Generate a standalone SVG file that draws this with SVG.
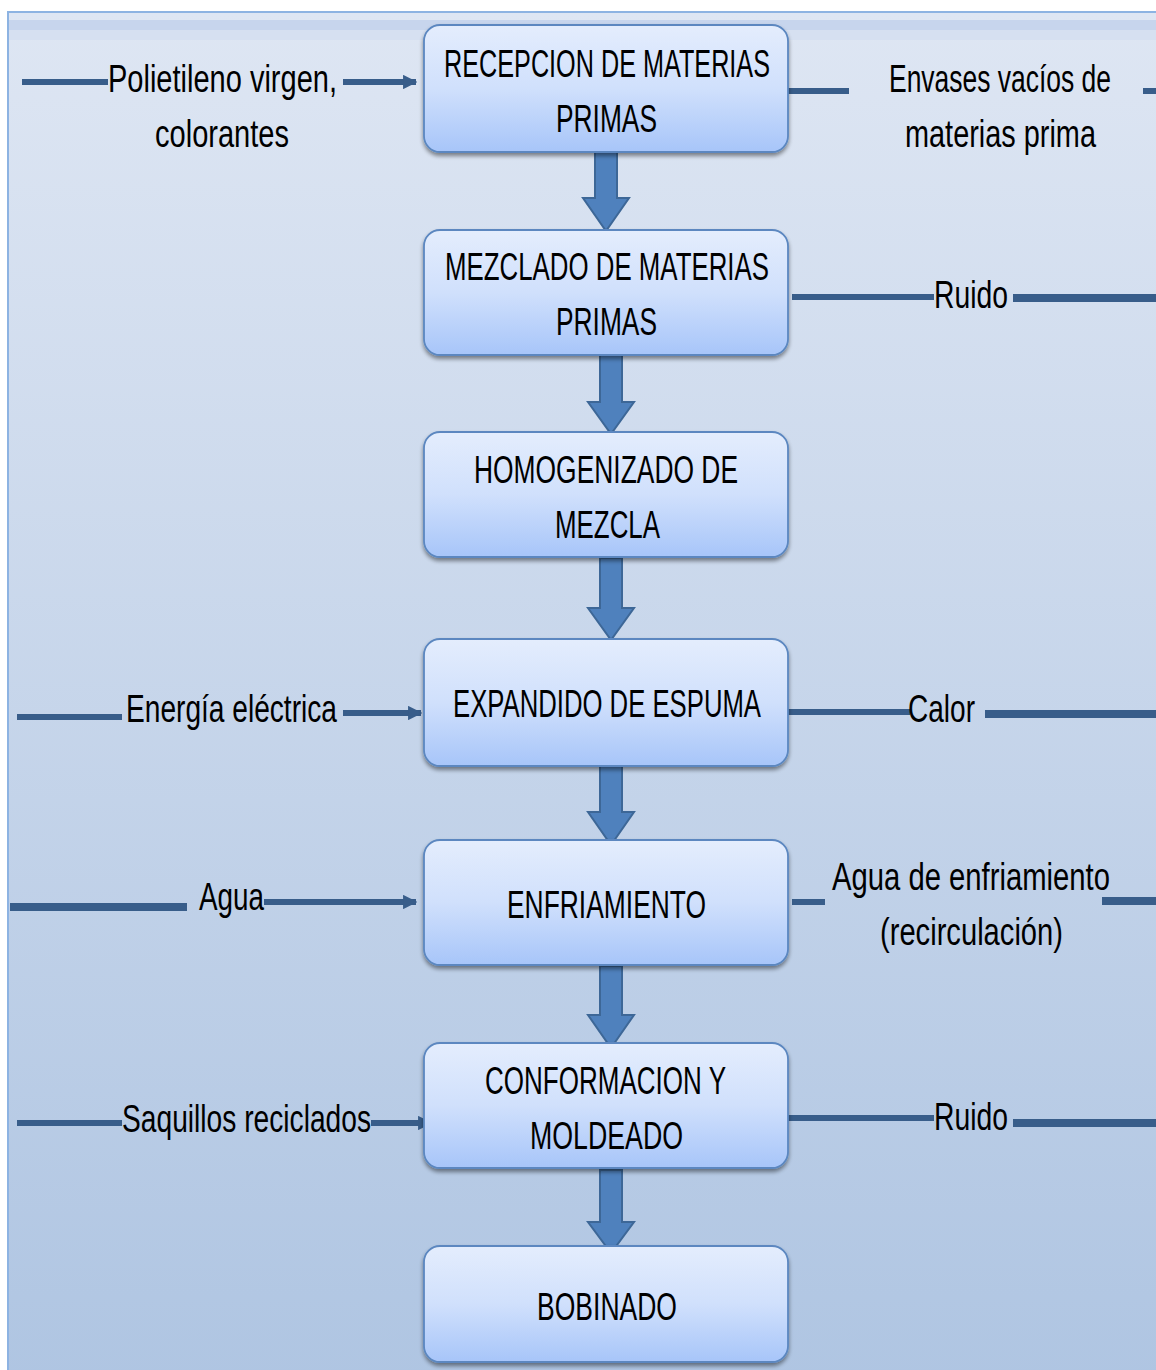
<svg xmlns="http://www.w3.org/2000/svg" width="1156" height="1370" viewBox="0 0 1156 1370">
<defs>
<linearGradient id="bg" x1="0" y1="0" x2="0" y2="1">
<stop offset="0" stop-color="#dee6f3"/>
<stop offset="1" stop-color="#afc5e2"/>
</linearGradient>
<linearGradient id="box" x1="0" y1="0" x2="0" y2="1">
<stop offset="0" stop-color="#e4edfd"/>
<stop offset="0.5" stop-color="#d0e0fc"/>
<stop offset="1" stop-color="#a7c5f9"/>
</linearGradient>
<filter id="sh" x="-10%" y="-10%" width="120%" height="130%">
<feGaussianBlur in="SourceAlpha" stdDeviation="2"/>
<feOffset dx="0" dy="3" result="o"/>
<feComponentTransfer><feFuncA type="linear" slope="0.45"/></feComponentTransfer>
<feMerge><feMergeNode/><feMergeNode in="SourceGraphic"/></feMerge>
</filter>
<marker id="ah" viewBox="0 0 10 10" refX="9" refY="5" markerWidth="2.4" markerHeight="2.4" orient="auto" markerUnits="strokeWidth">
<path d="M0,0 L10,5 L0,10 Z" fill="#385d8a"/>
</marker>
</defs>
<style>
.bx{fill:url(#box);stroke:#5b87c0;stroke-width:1.8}
.t{font-family:"Liberation Sans",Arial,sans-serif;font-size:39px;fill:#000}
.l{font-family:"Liberation Sans",Arial,sans-serif;font-size:38px;fill:#000}
.ln{stroke:#385d8a;stroke-width:6;fill:none}
.lt{stroke:#385d8a;stroke-width:8;fill:none}
.ar{stroke:#385d8a;stroke-width:6;fill:none;marker-end:url(#ah)}
.ba{fill:#4f81bd;stroke:#3d6797;stroke-width:2}
</style>
<rect x="0" y="0" width="1156" height="1370" fill="#ffffff"/>
<rect x="8" y="12" width="1160" height="1370" fill="url(#bg)" stroke="#8db3e2" stroke-width="2"/>
<rect x="9" y="20" width="1147" height="10" fill="#c7d5ed"/>
<rect x="9" y="30" width="1147" height="10" fill="#d6e0f1"/>

<g id="connectors">
<path class="ba" d="M595,150 H617 V198 H629 L606,231 L583,198 H595 Z"/>
<path class="ba" d="M600,355 H622 V402 H634 L611,434 L588,402 H600 Z"/>
<path class="ba" d="M600,558 H622 V608 H634 L611,640 L588,608 H600 Z"/>
<path class="ba" d="M600,765 H622 V812 H634 L611,845 L588,812 H600 Z"/>
<path class="ba" d="M600,966 H622 V1015 H634 L611,1048 L588,1015 H600 Z"/>
<path class="ba" d="M600,1170 H622 V1222 H634 L611,1253 L588,1222 H600 Z"/>

<line class="ln" x1="22" y1="82" x2="108" y2="82"/>
<line class="ar" x1="343" y1="82" x2="416" y2="82"/>
<line class="ln" x1="788" y1="91" x2="849" y2="91"/>
<line class="ln" x1="1143" y1="91" x2="1156" y2="91"/>

<line class="ln" x1="792" y1="297" x2="934" y2="297"/>
<line class="lt" x1="1013" y1="298" x2="1156" y2="298"/>

<line class="ln" x1="17" y1="717" x2="122" y2="717"/>
<line class="ar" x1="343" y1="713" x2="421" y2="713"/>
<line class="ln" x1="788" y1="712" x2="910" y2="712"/>
<line class="lt" x1="985" y1="714" x2="1156" y2="714"/>

<line class="lt" x1="10" y1="907" x2="187" y2="907"/>
<line class="ar" x1="264" y1="902" x2="416" y2="902"/>
<line class="ln" x1="792" y1="902" x2="825" y2="902"/>
<line class="lt" x1="1102" y1="901" x2="1156" y2="901"/>

<line class="ln" x1="17" y1="1123" x2="122" y2="1123"/>
<line class="ar" x1="371" y1="1123" x2="431" y2="1123"/>
<line class="ln" x1="788" y1="1118" x2="934" y2="1118"/>
<line class="lt" x1="1013" y1="1123" x2="1156" y2="1123"/>
</g>

<g id="n1"><rect class="bx" filter="url(#sh)" x="424" y="25" width="364" height="127" rx="16"/>
<text class="t" x="444" y="77" textLength="326" lengthAdjust="spacingAndGlyphs">RECEPCION DE MATERIAS</text>
<text class="t" x="556" y="132" textLength="101" lengthAdjust="spacingAndGlyphs">PRIMAS</text></g>

<g id="n2"><rect class="bx" filter="url(#sh)" x="424" y="230" width="364" height="125" rx="16"/>
<text class="t" x="445" y="280" textLength="324" lengthAdjust="spacingAndGlyphs">MEZCLADO DE MATERIAS</text>
<text class="t" x="556" y="335" textLength="101" lengthAdjust="spacingAndGlyphs">PRIMAS</text></g>

<g id="n3"><rect class="bx" filter="url(#sh)" x="424" y="432" width="364" height="125" rx="16"/>
<text class="t" x="474" y="483" textLength="264" lengthAdjust="spacingAndGlyphs">HOMOGENIZADO DE</text>
<text class="t" x="555" y="538" textLength="105" lengthAdjust="spacingAndGlyphs">MEZCLA</text></g>

<g id="n4"><rect class="bx" filter="url(#sh)" x="424" y="639" width="364" height="127" rx="16"/>
<text class="t" x="453" y="717" textLength="308" lengthAdjust="spacingAndGlyphs">EXPANDIDO DE ESPUMA</text></g>

<g id="n5"><rect class="bx" filter="url(#sh)" x="424" y="840" width="364" height="125" rx="16"/>
<text class="t" x="507" y="918" textLength="199" lengthAdjust="spacingAndGlyphs">ENFRIAMIENTO</text></g>

<g id="n6"><rect class="bx" filter="url(#sh)" x="424" y="1043" width="364" height="125" rx="16"/>
<text class="t" x="485" y="1094" textLength="241" lengthAdjust="spacingAndGlyphs">CONFORMACION Y</text>
<text class="t" x="530" y="1149" textLength="153" lengthAdjust="spacingAndGlyphs">MOLDEADO</text></g>

<g id="n7"><rect class="bx" filter="url(#sh)" x="424" y="1246" width="364" height="116" rx="16"/>
<text class="t" x="537" y="1320" textLength="140" lengthAdjust="spacingAndGlyphs">BOBINADO</text></g>

<g id="labels">
<text class="l" x="108" y="92" textLength="229" lengthAdjust="spacingAndGlyphs">Polietileno virgen,</text>
<text class="l" x="155" y="147" textLength="134" lengthAdjust="spacingAndGlyphs">colorantes</text>
<text class="l" x="889" y="92" textLength="222" lengthAdjust="spacingAndGlyphs">Envases vacíos de</text>
<text class="l" x="905" y="147" textLength="191" lengthAdjust="spacingAndGlyphs">materias prima</text>
<text class="l" x="934" y="308" textLength="74" lengthAdjust="spacingAndGlyphs">Ruido</text>
<text class="l" x="126" y="722" textLength="211" lengthAdjust="spacingAndGlyphs">Energía eléctrica</text>
<text class="l" x="908" y="722" textLength="67" lengthAdjust="spacingAndGlyphs">Calor</text>
<text class="l" x="199" y="910" textLength="65" lengthAdjust="spacingAndGlyphs">Agua</text>
<text class="l" x="832" y="890" textLength="278" lengthAdjust="spacingAndGlyphs">Agua de enfriamiento</text>
<text class="l" x="880" y="945" textLength="183" lengthAdjust="spacingAndGlyphs">(recirculación)</text>
<text class="l" x="122" y="1132" textLength="249" lengthAdjust="spacingAndGlyphs">Saquillos reciclados</text>
<text class="l" x="934" y="1130" textLength="74" lengthAdjust="spacingAndGlyphs">Ruido</text>
</g>
</svg>
